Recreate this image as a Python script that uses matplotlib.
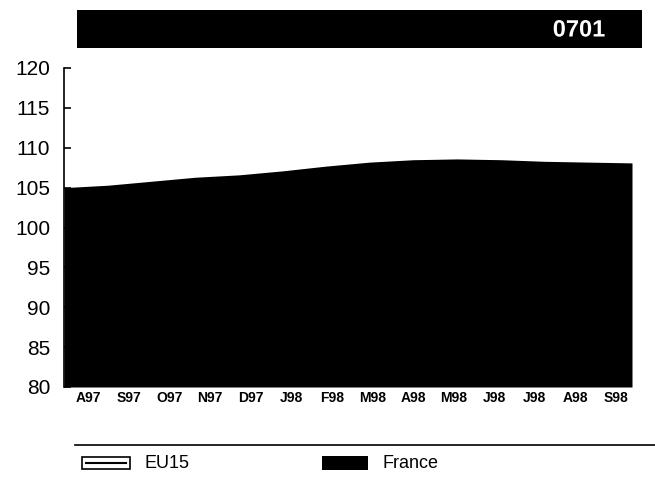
import matplotlib
matplotlib.use("Agg")
import matplotlib.pyplot as plt
import matplotlib.patheffects as pe
from matplotlib.patches import Rectangle
from matplotlib.lines import Line2D

months = ["A97", "S97", "O97", "N97", "D97", "J98", "F98", "M98",
          "A98", "M98", "J98", "J98", "A98", "S98"]
france = [105.0, 105.3, 105.8, 106.3, 106.6, 107.1, 107.7, 108.2,
          108.5, 108.6, 108.5, 108.3, 108.2, 108.1]
yticks = [80, 85, 90, 95, 100, 105, 110, 115, 120]

W, H = 655, 479
fig = plt.figure(figsize=(W / 100, H / 100), dpi=100)
plt.rcParams["font.family"] = ["Liberation Sans", "DejaVu Sans"]

def fx(px):
    return px / W

def fy(py):
    return 1 - py / H

# title banner
fig.patches.append(Rectangle((fx(77), fy(48)), fx(642) - fx(77), fy(10) - fy(48),
                             transform=fig.transFigure, facecolor="black",
                             edgecolor="none"))
fig.text(fx(579), fy(30), "0701", color="white", fontsize=17, fontweight="bold",
         ha="center", va="center",
         path_effects=[pe.withStroke(linewidth=3, foreground="black")])

# main chart
ax = fig.add_axes([fx(64), fy(387), fx(632) - fx(64), fy(68) - fy(387)])
n = len(france)
x = list(range(n))
ax.fill_between(x, 80, france, color="black", linewidth=0)
ax.set_xlim(0, n - 1)
ax.set_ylim(80, 120)
ax.set_yticks(yticks)
ax.set_yticklabels([str(v) for v in yticks], fontsize=15)
ax.tick_params(axis="y", direction="in", length=5, width=1.2, pad=10)
step = (n - 1) / n
ax.set_xticks([(i + 0.6) * step for i in range(n)])
ax.set_xticklabels(months, fontsize=10, fontweight="bold")
ax.tick_params(axis="x", length=0, pad=3)
for s in ["top", "right", "bottom"]:
    ax.spines[s].set_visible(False)
ax.spines["left"].set_linewidth(1.2)

# legend area
fig.add_artist(Line2D([fx(75), fx(655)], [fy(445), fy(445)],
                      transform=fig.transFigure, color="black", linewidth=1.2))
fig.patches.append(Rectangle((fx(82), fy(469)), fx(48), fy(457) - fy(469),
                             transform=fig.transFigure, facecolor="white",
                             edgecolor="black", linewidth=1.2))
fig.add_artist(Line2D([fx(86), fx(126)], [fy(463), fy(463)],
                      transform=fig.transFigure, color="black", linewidth=1.5))
fig.text(fx(145), fy(463), "EU15", fontsize=13, va="center")
fig.patches.append(Rectangle((fx(322), fy(470)), fx(46), fy(456) - fy(470),
                             transform=fig.transFigure, facecolor="black",
                             edgecolor="none"))
fig.text(fx(382), fy(463), "France", fontsize=13, va="center")

fig.savefig("out.png", dpi=100)
